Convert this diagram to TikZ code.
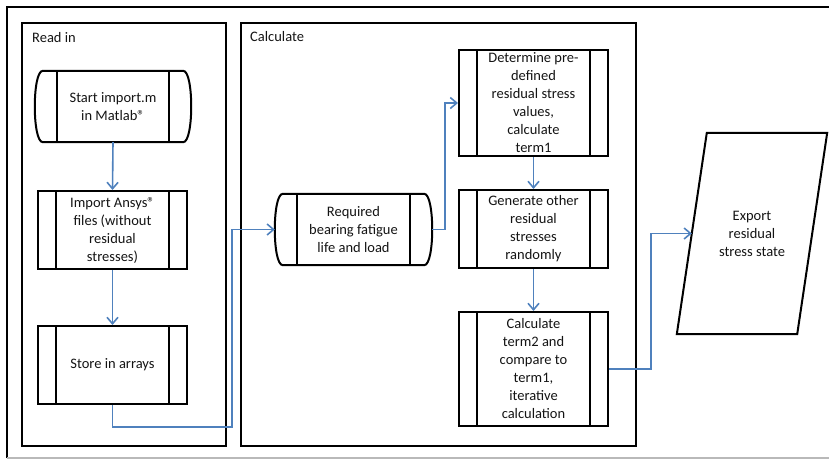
\documentclass[tikz,border=0pt]{standalone}
\usepackage{fontspec}
\setmainfont{Carlito}
\usetikzlibrary{arrows.meta,calc}
\definecolor{flowblue}{RGB}{79,129,189}
\definecolor{edgegray}{RGB}{185,185,185}
\tikzset{
  txt/.style={font=\fontsize{14.5}{18}\selectfont, align=center, text=black!92, inner sep=0pt},
  frame/.style={draw=black, line width=2pt},
  procbox/.style={txt, draw=black, line width=2pt, rectangle},
  hollow/.style={txt, rectangle, draw=none},
  arr/.style={draw=flowblue, line width=1.6pt, -{Straight Barb[length=6.5pt,width=11pt,line width=1.6pt]}},
}
\begin{document}
\begin{tikzpicture}[x=1pt,y=-1pt]
\useasboundingbox (0,0) rectangle (829,459);
% outer frame
\draw[black, line width=1.5pt] (7,458) -- (7,7) -- (835,7);
\draw[edgegray, line width=1.5pt] (7,458) -- (835,458);
% group frames
\draw[frame] (22,23) rectangle (226,446);
\draw[frame] (241,23) rectangle (636,446);
\node[txt, anchor=west] (lblread) at (32,38) {Read in};
\node[txt, anchor=west] (lblcalc) at (250,37) {Calculate};

% Start terminal
\node[hollow, minimum width=156pt, minimum height=71pt] (start) at (113,106.5) {Start import.m\\in Matlab®};
% Import
\node[procbox, minimum width=149pt, minimum height=78pt] (import) at (112.5,230) {Import Ansys®\\files (without\\residual\\stresses)};
% Store
\node[procbox, minimum width=149pt, minimum height=78pt] (store) at (112.5,365) {Store in arrays};
% Required terminal
\node[hollow, minimum width=157pt, minimum height=71pt] (req) at (353.5,229.5) {Required\\bearing fatigue\\life and load};
% Determine
\node[procbox, minimum width=149pt, minimum height=106pt] (det) at (533.5,103) {Determine pre-\\defined\\residual stress\\values,\\calculate\\term1};
% Generate
\node[procbox, minimum width=149pt, minimum height=78pt] (gen) at (533.5,229) {Generate other\\residual\\stresses\\randomly};
% Calculate term2
\node[procbox, minimum width=149pt, minimum height=114pt] (calc) at (533.5,369) {Calculate\\term2 and\\compare to\\term1,\\iterative\\calculation};
% Export
\node[hollow, minimum width=150pt, minimum height=201pt] (ex) at (752,233.5) {Export\\residual\\stress state};

% terminal outlines
\foreach \n in {start,req}{
  \draw[black, line width=2pt]
    ([xshift=8pt]\n.north west) -- ([xshift=-8pt]\n.north east)
    .. controls ([xshift=2.7pt]\n.north east) and ([xshift=2.7pt]\n.south east) .. ([xshift=-8pt]\n.south east)
    -- ([xshift=8pt]\n.south west)
    .. controls ([xshift=-2.7pt]\n.south west) and ([xshift=-2.7pt]\n.north west) .. cycle;
  \draw[black, line width=2pt] ([xshift=22pt]\n.north west) -- ([xshift=22pt]\n.south west);
  \draw[black, line width=2pt] ([xshift=-22pt]\n.north east) -- ([xshift=-22pt]\n.south east);
}
% predefined-process inner lines
\foreach \n in {import,store,det,gen,calc}{
  \draw[black, line width=2pt] ([xshift=19pt]\n.north west) -- ([xshift=19pt]\n.south west);
  \draw[black, line width=2pt] ([xshift=-19pt]\n.north east) -- ([xshift=-19pt]\n.south east);
}
% parallelogram
\draw[black, line width=2pt] ([xshift=30pt]ex.north west) -- (ex.north east)
  -- ([xshift=-30pt]ex.south east) -- (ex.south west) -- cycle;

% connectors
\draw[arr] (start.south) -- (import.north);
\draw[arr] (import.south) -- (store.north);
\draw[arr] (store.south) -- ++(0,22) -| (232,229.5) -- (req.west);
\draw[arr] (req.east) -- ++(13,0) |- (det.west);
\draw[arr] (det.south) -- (gen.north);
\draw[arr] (gen.south) -- (calc.north);
\draw[arr] (calc.east) -- ++(42,0) |- ([xshift=15pt]ex.west);
\end{tikzpicture}
\end{document}
